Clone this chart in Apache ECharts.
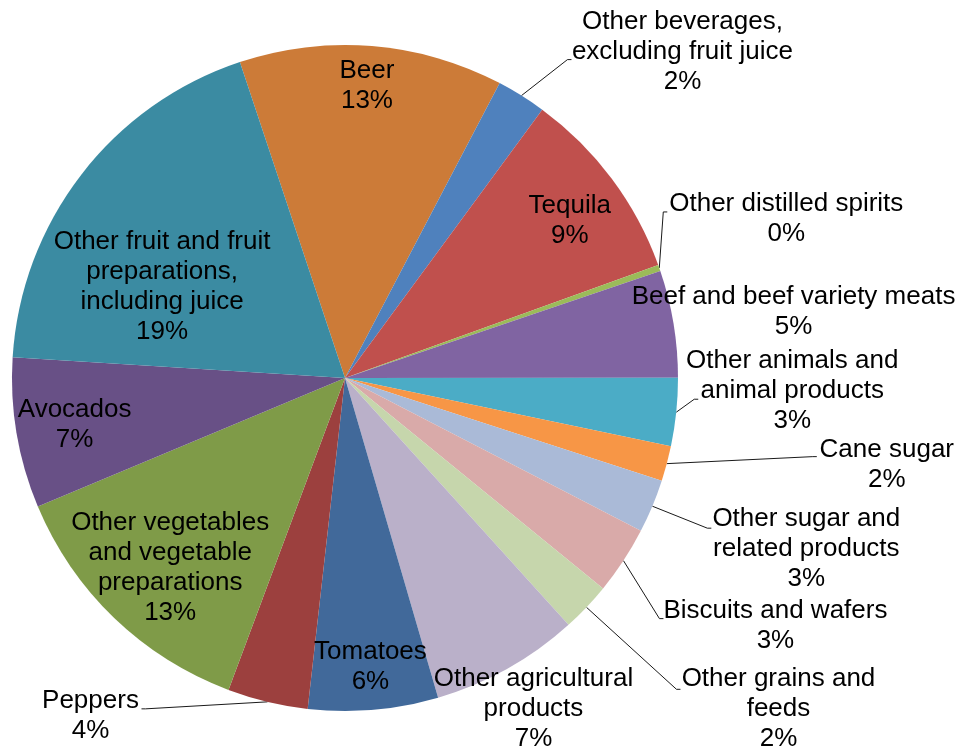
<!DOCTYPE html>
<html>
<head>
<meta charset="utf-8">
<script src="https://cdn.jsdelivr.net/npm/echarts@6/dist/echarts.min.js"></script>
<style>
  html, body { margin: 0; padding: 0; background: #ffffff; }
  #chart { width: 958px; height: 746px; }
</style>
</head>
<body>
<div id="chart"></div>
<script>
// Product groups, in clockwise order starting with Beer
const categories = [
  'Beer',
  'Other beverages,\nexcluding fruit juice',
  'Tequila',
  'Other distilled spirits',
  'Beef and beef variety meats',
  'Other animals and\nanimal products',
  'Cane sugar',
  'Other sugar and\nrelated products',
  'Biscuits and wafers',
  'Other grains and\nfeeds',
  'Other agricultural\nproducts',
  'Tomatoes',
  'Peppers',
  'Other vegetables\nand vegetable\npreparations',
  'Avocados',
  'Other fruit and fruit\npreparations,\nincluding juice'
];

// Share of total, percent
const shares = [12.8, 2.4, 9.4, 0.3, 5.2, 3.3, 1.7, 2.6, 3.3, 2.4, 7.2, 6.3, 3.9, 13.0, 7.3, 18.9];

const sliceColors = [
  '#CC7B38', '#4F81BD', '#C0504D', '#9BBB59', '#8064A2', '#4BACC6',
  '#F79646', '#AABAD7', '#D9AAA9', '#C6D6AC', '#BAB0C9', '#41699A',
  '#9C403E', '#7F9B48', '#685086', '#3B8BA2'
];

// Label block centre, as an offset from the slice's rim point at its mid-angle
const labelOffsets = [
  [-5, 40], [161, -44], [-42, 42], [127, -49], [120, -12], [116, -21],
  [220, 1], [154, 43], [152, 65], [192, 102], [26, 40], [-3, -43],
  [-177, 14], [56, -50], [58, -9], [81, 112]
];

// Where each leader line meets its label, relative to the label centre (null: no leader)
const leaderEnds = [
  null, [-111, 8], null, [-119, -7], null, [-94, 8],
  [-70, -8], [-95, -21], [-112, -7], [-98, -20], null, null,
  [51, -7], null, null, null
];

const chart = echarts.init(document.getElementById('chart'), null, { renderer: 'canvas' });

const pieData = categories.map((name, i) => ({
  name: name,
  value: shares[i],
  itemStyle: { color: sliceColors[i] },
  labelLine: { show: leaderEnds[i] !== null }
}));

chart.setOption({
  animation: false,
  backgroundColor: '#ffffff',
  series: [{
    type: 'pie',
    center: [345, 378],
    radius: 333,
    startAngle: 108.4,
    clockwise: true,
    avoidLabelOverlap: false,
    data: pieData,
    itemStyle: { borderWidth: 0 },
    emphasis: { disabled: true },
    label: {
      show: true,
      position: 'outside',
      color: '#000000',
      fontFamily: '"Liberation Sans", Arial, sans-serif',
      fontSize: 26,
      lineHeight: 30,
      align: 'center',
      formatter: p => p.name + '\n' + Math.round(p.percent) + '%'
    },
    labelLine: {
      length: 10,
      length2: 10,
      smooth: false,
      lineStyle: { color: '#1a1a1a', width: 1 }
    },
    labelLayout: function (p) {
      const i = p.dataIndex;
      const lay = chart.getModel().getSeriesByIndex(0).getData().getItemLayout(i);
      const mid = (lay.startAngle + lay.endAngle) / 2;
      const rim = [lay.cx + lay.r * Math.cos(mid), lay.cy + lay.r * Math.sin(mid)];
      const cx = rim[0] + labelOffsets[i][0];
      const cy = rim[1] + labelOffsets[i][1];
      const out = { x: cx, y: cy, align: 'center', verticalAlign: 'middle' };
      const end = leaderEnds[i];
      if (end) {
        const ex = cx + end[0];
        const ey = cy + end[1];
        const bx = ex + (end[0] < 0 ? -4 : 4);
        out.labelLinePoints = [rim, [bx, ey], [ex, ey]];
      }
      return out;
    }
  }]
});
</script>
</body>
</html>
